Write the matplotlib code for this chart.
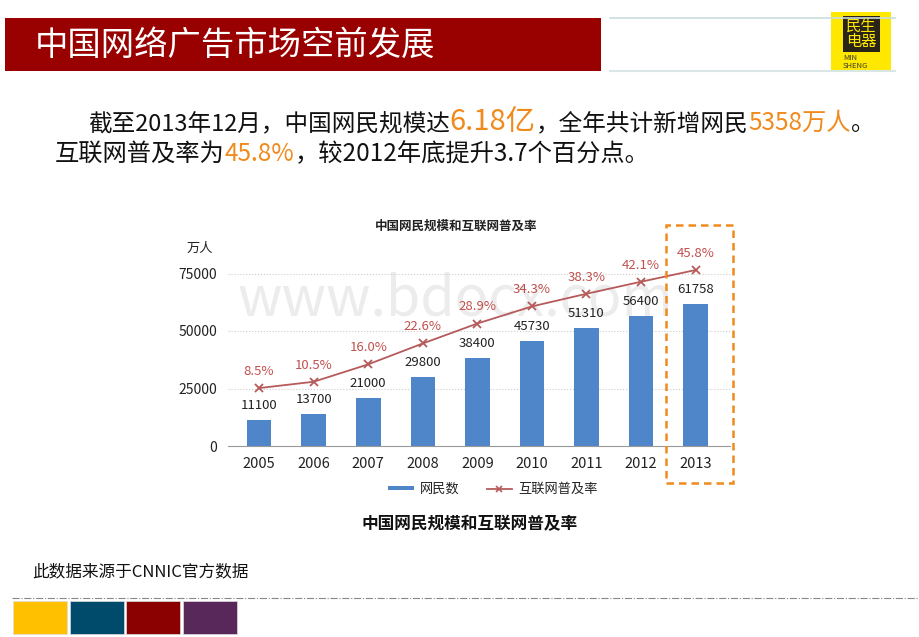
import matplotlib
matplotlib.use("Agg")
import matplotlib.pyplot as plt
from matplotlib.patches import Rectangle
from matplotlib.lines import Line2D

plt.rcParams['font.family'] = ['Noto Sans CJK SC', 'DejaVu Sans']

years = ['2005', '2006', '2007', '2008', '2009', '2010', '2011', '2012', '2013']
netizens = [11100, 13700, 21000, 29800, 38400, 45730, 51310, 56400, 61758]
penetration = [8.5, 10.5, 16.0, 22.6, 28.9, 34.3, 38.3, 42.1, 45.8]
y_ticks = [0, 25000, 50000, 75000]

W, H = 920, 637
ORANGE = '#f08a1c'
BAR = '#4f86c9'
LINE = '#b65a5a'


def fx(x):
    return x / W


def fy(y):
    return 1 - y / H


def rect(x0, y0, x1, y1, **kw):
    return Rectangle((fx(x0), fy(y1)), fx(x1) - fx(x0), fy(y0) - fy(y1),
                     transform=fig.transFigure, **kw)


fig = plt.figure(figsize=(9.2, 6.37), dpi=100)
fig.patch.set_facecolor('white')

# header banner
fig.patches.append(rect(5, 18, 601, 71, facecolor='#990000', edgecolor='none'))
fig.text(fx(35), fy(45), '中国网络广告市场空前发展', color='white', fontsize=24,
         va='center', ha='left')
fig.add_artist(Line2D([fx(610), fx(895)], [fy(18), fy(18)], color='#c9dcdc', lw=1.2))
fig.add_artist(Line2D([fx(610), fx(895)], [fy(71), fy(71)], color='#d8e6e6', lw=1.5))
fig.patches.append(rect(831, 12, 891, 72, facecolor='#ffe800', edgecolor='none'))
fig.patches.append(rect(843, 16, 880, 52, facecolor='#2a2418', edgecolor='none'))
fig.text(fx(861.5), fy(34), '民生\n电器', color='#ffe800', fontsize=11, ha='center',
         va='center', linespacing=0.85)
fig.text(fx(843), fy(62), 'MIN\nSHENG', color='#3a3a2a', fontsize=5.5, ha='left',
         va='center', linespacing=0.9)

# summary text with coloured segments
fig.canvas.draw()
renderer = fig.canvas.get_renderer()


def colored_line(x, y, parts):
    for txt, color, size in parts:
        t = fig.text(fx(x), fy(y), txt, color=color, fontsize=size, ha='left',
                     va='baseline')
        bb = t.get_window_extent(renderer=renderer)
        x += bb.width


colored_line(88, 130, [
    ('截至2013年12月，中国网民规模达', '#111111', 17),
    ('6.18亿', ORANGE, 21),
    ('，全年共计新增网民', '#111111', 17),
    ('5358万人', ORANGE, 17.5),
    ('。', '#111111', 17),
])
colored_line(55, 161, [
    ('互联网普及率为', '#111111', 17.5),
    ('45.8%', ORANGE, 17.5),
    ('，较2012年底提升3.7个百分点。', '#111111', 17.5),
])

# chart
ax = fig.add_axes([fx(228), fy(446), fx(730) - fx(228), fy(239) - fy(446)])
ax.set_facecolor('none')
x = list(range(len(years)))
ax.bar(x, netizens, width=0.45, color=BAR, zorder=2)
ax.set_xlim(-0.57, 8.63)
ax.set_ylim(0, 90000)
ax.set_yticks(y_ticks)
ax.set_yticklabels([str(v) for v in y_ticks], fontsize=10, color='#222222')
ax.set_xticks(x)
ax.set_xticklabels(years, fontsize=10.5, color='#222222')
ax.tick_params(axis='both', length=0, pad=8)
for s in ['top', 'right', 'left']:
    ax.spines[s].set_visible(False)
ax.spines['bottom'].set_color('#999999')
for v in y_ticks[1:]:
    ax.axhline(v, color='#cccccc', lw=0.8, ls=':', zorder=1)
for xi, v in zip(x, netizens):
    ax.text(xi, v + 3500, str(v), ha='center', va='bottom', fontsize=9.5,
            color='#222222')

ax2 = ax.twinx()
ax2.set_ylim(-9.8, 55.6)
ax2.axis('off')
ax2.plot(x, penetration, color=LINE, lw=1.3, marker='x', markersize=6,
         markeredgewidth=1.3, zorder=3)
for xi, v in zip(x, penetration):
    ax2.text(xi, v + 3.2, f'{v:.1f}%', ha='center', va='bottom', fontsize=9.5,
             color='#c0504d')

fig.text(fx(456), fy(226), '中国网民规模和互联网普及率', ha='center', va='center',
         fontsize=9, fontweight='bold', color='#222222')
fig.text(fx(200), fy(248), '万人', ha='center', va='center', fontsize=9.5,
         color='#222222')

# legend
fig.patches.append(rect(388, 486, 414, 490, facecolor=BAR, edgecolor='none'))
fig.text(fx(420), fy(489), '网民数', ha='left', va='center', fontsize=9.5, color='#222222')
fig.add_artist(Line2D([fx(487), fx(512)], [fy(489), fy(489)], color=LINE, lw=1.3))
fig.add_artist(Line2D([fx(499.5)], [fy(489)], color=LINE, marker='x', markersize=5,
                      markeredgewidth=1.2))
fig.text(fx(518), fy(489), '互联网普及率', ha='left', va='center', fontsize=9.5,
         color='#222222')

# highlight box around 2013
fig.patches.append(rect(666, 225, 733, 483, facecolor='none', edgecolor=ORANGE,
                        lw=1.8, ls=(0, (3, 2))))

# faint site watermark behind the chart
fig.text(fx(455), fy(300), 'www.bdocx.com', ha='center', va='center', fontsize=40,
         color='#ececec', zorder=-1)

fig.text(fx(470), fy(524), '中国网民规模和互联网普及率', ha='center', va='center',
         fontsize=12, fontweight='bold', color='#111111')

# footer
fig.text(fx(32), fy(572), '此数据来源于CNNIC官方数据', ha='left', va='center',
         fontsize=12, color='#111111')
fig.add_artist(Line2D([fx(12), fx(920)], [fy(598), fy(598)], color='#888888', lw=0.8,
                      ls='-.'))
for x0, c in zip([13, 70, 126, 183], ['#ffc000', '#004a6b', '#8b0000', '#58285a']):
    fig.patches.append(rect(x0, 601, x0 + 54, 634, facecolor=c, edgecolor='#dddddd',
                            lw=0.5))

fig.savefig('out.png', dpi=100)
